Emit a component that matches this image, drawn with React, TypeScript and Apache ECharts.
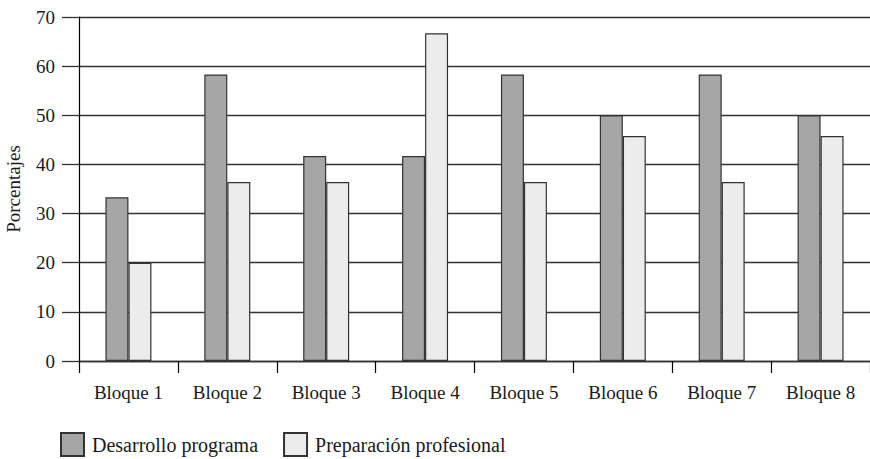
import React, { useEffect, useRef } from "react";
import * as echarts from "echarts";

const categories = ["Bloque 1", "Bloque 2", "Bloque 3", "Bloque 4", "Bloque 5", "Bloque 6", "Bloque 7", "Bloque 8"];
const desarrollo = [33.3, 58.3, 41.7, 41.7, 58.3, 50, 58.3, 50];
const preparacion = [20, 36.4, 36.4, 66.7, 36.4, 45.8, 36.4, 45.8];
const seriesNames = ["Desarrollo programa", "Preparación profesional"];

const FONT = "'Liberation Serif', 'Times New Roman', serif";

export default function App() {
  const ref = useRef<HTMLDivElement>(null);
  useEffect(() => {
    document.body.style.margin = "0";
    const chart = echarts.init(ref.current!, undefined, { renderer: "svg" });
    chart.setOption({
      animation: false,
      backgroundColor: "#ffffff",
      textStyle: { fontFamily: FONT },
      grid: { left: 79, right: 0, top: 17, bottom: 98, containLabel: false, outerBoundsMode: "none" },
      legend: {
        left: 60,
        top: 432,
        itemWidth: 23,
        itemHeight: 23,
        itemGap: 25,
        padding: 0,
        icon: "rect",
        textStyle: { fontFamily: FONT, fontSize: 20, color: "#1a1a1a", lineHeight: 23, padding: [0, 0, 0, 3] },
        data: seriesNames,
      },
      xAxis: {
        type: "category",
        data: categories,
        axisLine: { show: true, lineStyle: { color: "#333", width: 1.3 } },
        axisTick: { show: true, length: 12, alignWithLabel: false, lineStyle: { color: "#000", width: 1.2 } },
        axisLabel: { margin: 22, fontFamily: FONT, fontSize: 19, color: "#1a1a1a" },
      },
      yAxis: {
        type: "value",
        min: 0,
        max: 70,
        interval: 10,
        name: "Porcentajes",
        nameLocation: "middle",
        nameGap: 56,
        nameRotate: 90,
        nameTextStyle: { fontFamily: FONT, fontSize: 19, color: "#1a1a1a" },
        axisLine: { show: true, lineStyle: { color: "#000", width: 1.2 } },
        axisTick: { show: true, length: 17, lineStyle: { color: "#333", width: 1.3 } },
        axisLabel: { margin: 24, fontFamily: FONT, fontSize: 19, color: "#1a1a1a" },
        splitLine: { show: true, lineStyle: { color: "#333", width: 1.3 } },
      },
      series: [
        {
          name: seriesNames[0],
          type: "bar",
          data: desarrollo,
          barWidth: 23,
          barGap: "0%",
          itemStyle: { color: "#a6a6a6", borderColor: "#333", borderWidth: 1.2 },
        },
        {
          name: seriesNames[1],
          type: "bar",
          data: preparacion,
          barWidth: 23,
          barGap: "0%",
          itemStyle: { color: "#ececec", borderColor: "#333", borderWidth: 1.2 },
        },
      ],
    });
    return () => chart.dispose();
  }, []);
  return <div ref={ref} style={{ position: "absolute", left: 0, top: 0, width: 870, height: 459 }} />;
}
